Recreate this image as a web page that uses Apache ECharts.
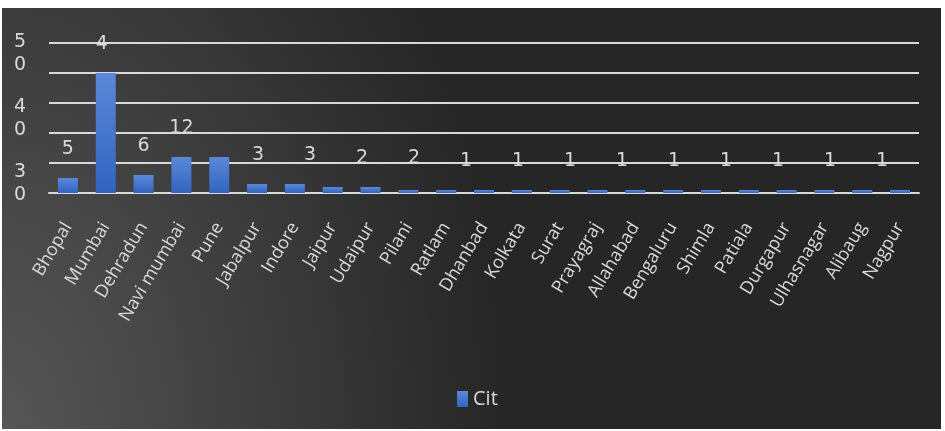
<!DOCTYPE html>
<html>
<head>
<meta charset="utf-8">
<script src="https://cdn.jsdelivr.net/npm/echarts@6/dist/echarts.min.js"></script>
<style>
  html, body { margin: 0; padding: 0; background: #ffffff; }
  #wrap { position: relative; width: 945px; height: 431px; }
  #bg {
    position: absolute; left: 2px; top: 8px; width: 939px; height: 421px;
    background: radial-gradient(ellipse 500px 760px at 0% 100%, #565656 0%, #262626 100%);
  }
  #chart { position: absolute; left: 0; top: 0; width: 945px; height: 431px; }
</style>
</head>
<body>
<div id="wrap">
  <div id="bg"></div>
  <div id="chart"></div>
</div>
<script>
// City counts
const cities = ['Bhopal', 'Mumbai', 'Dehradun', 'Navi mumbai', 'Pune', 'Jabalpur', 'Indore',
  'Jaipur', 'Udaipur', 'Pilani', 'Ratlam', 'Dhanbad', 'Kolkata', 'Surat', 'Prayagraj',
  'Allahabad', 'Bengaluru', 'Shimla', 'Patiala', 'Durgapur', 'Ulhasnagar', 'Alibaug', 'Nagpur'];
const counts = [5, 40, 6, 12, 12, 3, 3, 2, 2, 1, 1, 1, 1, 1, 1, 1, 1, 1, 1, 1, 1, 1, 1];

// Value-axis labels shown on the left
const yTickMin = 30;
const yTickMax = 50;
const yTickStep = 10;

// Bars that carry their own value label, and the run of labels set on a wider track
const labelledBars = [0, 1, 2, 3];
const trackStart = 5;
const trackEnd = 18;

const textColor = '#d9d9d9';
const lineColor = '#d9d9d9';
const numFont = 'DejaVu Sans';
const txtFont = 'Open Sans';

const barGradient = new echarts.graphic.LinearGradient(0, 0, 0, 1, [
  { offset: 0, color: '#5b88d8' },
  { offset: 1, color: '#3164c0' }
]);

const valueLabel = {
  show: true, position: 'top', distance: 19,
  color: textColor, fontFamily: numFont, fontSize: 19
};

const barData = counts.map((v, i) => {
  const item = { value: v };
  if (labelledBars.includes(i)) {
    item.label = Object.assign({}, valueLabel);
    if (v >= 40) {
      // wide value wraps and only its first line stays visible
      Object.assign(item.label, { width: 12, height: 22, overflow: 'breakAll', lineOverflow: 'truncate', offset: [-4, 0] });
    }
  }
  return item;
});

const trackCats = cities.slice(trackStart, trackEnd);
const trackVals = counts.slice(trackStart, trackEnd);

const chart = echarts.init(document.getElementById('chart'), null, { renderer: 'canvas' });
chart.setOption({
  backgroundColor: 'transparent',
  animation: false,
  grid: [
    { left: 49, right: 26, top: 43, bottom: 238 },
    { left: 49, width: 10, top: 54, height: 130 },
    { left: 232, right: 37, top: 43, bottom: 238 }
  ],
  xAxis: [
    {
      type: 'category', gridIndex: 0, data: cities,
      axisLine: { show: true, lineStyle: { color: lineColor, width: 2 } },
      axisTick: { show: false },
      axisLabel: {
        rotate: 59, interval: 0, margin: 31, hideOverlap: false,
        color: textColor, fontFamily: txtFont, fontSize: 18
      }
    },
    { type: 'category', gridIndex: 1, show: false, data: [''] },
    { type: 'category', gridIndex: 2, show: false, data: trackCats }
  ],
  yAxis: [
    {
      type: 'value', gridIndex: 0, min: 0, max: 50, interval: 10,
      axisLine: { show: false }, axisTick: { show: false },
      axisLabel: { show: false },
      splitLine: { lineStyle: { color: lineColor, width: 2 } }
    },
    {
      type: 'value', gridIndex: 1, min: yTickMin, max: yTickMax, interval: yTickStep,
      axisLine: { show: false }, axisTick: { show: false }, splitLine: { show: false },
      axisLabel: {
        margin: 29, align: 'center', lineHeight: 23,
        color: textColor, fontFamily: numFont, fontSize: 19,
        formatter: v => String(v).split('').join('\n')
      }
    },
    {
      type: 'value', gridIndex: 2, min: 0, max: 50, show: false,
      splitLine: { show: false }
    }
  ],
  legend: {
    data: ['Cit'], left: 452, top: 384, icon: 'rect',
    itemWidth: 11, itemHeight: 16, itemGap: 8,
    textStyle: { color: textColor, fontFamily: txtFont, fontSize: 20 }
  },
  series: [
    {
      name: 'Cit', type: 'bar', xAxisIndex: 0, yAxisIndex: 0,
      barWidth: 20, data: barData,
      itemStyle: { color: barGradient }
    },
    {
      name: 'labels', type: 'bar', xAxisIndex: 2, yAxisIndex: 2,
      barWidth: 2, data: trackVals,
      itemStyle: { color: 'rgba(0,0,0,0)' },
      label: valueLabel,
      silent: true
    }
  ]
});
</script>
</body>
</html>
